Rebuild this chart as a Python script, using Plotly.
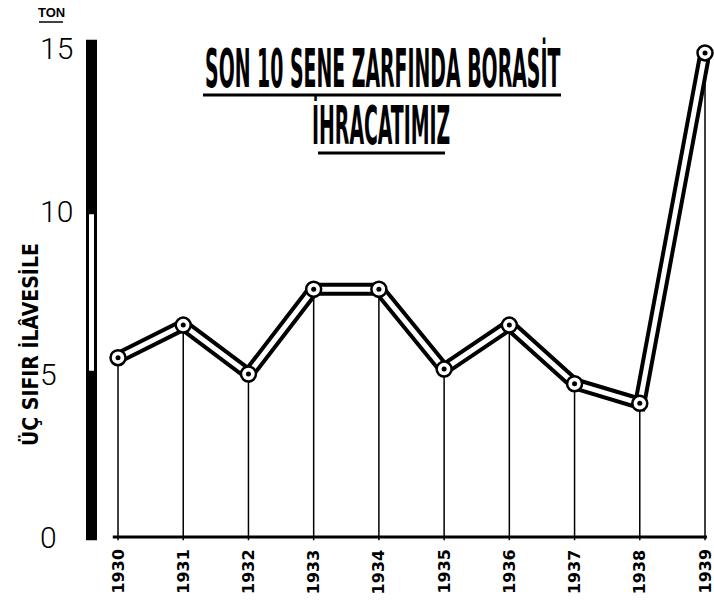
import plotly.graph_objects as go

years = [1930, 1931, 1932, 1933, 1934, 1935, 1936, 1937, 1938, 1939]
year_labels = ["1930", "1931", "1932", "1933", "1934", "1935", "1936", "1937", "1938", "1939"]
exports = [5.5, 6.5, 5.0, 7.6, 7.6, 5.15, 6.5, 4.7, 4.1, 14.85]
y_ticks = [0, 5, 10, 15]
y_tick_labels = ["0", "5", "10", "15"]

title_line1 = "SON 10 SENE ZARFINDA BORASİT"
title_line2 = "İHRACATIMIZ"
y_title = "ÜÇ SIFIR İLÂVESİLE"
unit = "TON"

W, H = 714, 610
ML, MR, MT, MB = 80, 4, 30, 67
PW, PH = W - ML - MR, H - MT - MB

def px(x):
    return (x - ML) / PW

def py(y):
    return (H - MB - y) / PH

fig = go.Figure()

# drop lines
dx, dy = [], []
for x, v in zip(years, exports):
    dx += [x, x, None]
    dy += [-0.1, v, None]
fig.add_trace(go.Scatter(x=dx, y=dy, mode="lines", line=dict(color="black", width=1.5),
                         hoverinfo="skip", showlegend=False, cliponaxis=False))
# thick band line
fig.add_trace(go.Scatter(x=years, y=exports, mode="lines", line=dict(color="black", width=13),
                         showlegend=False, hoverinfo="skip", cliponaxis=False))
fig.add_trace(go.Scatter(x=years, y=exports, mode="lines", line=dict(color="white", width=5),
                         showlegend=False, hoverinfo="skip", cliponaxis=False))
fig.add_trace(go.Scatter(x=years, y=exports, mode="markers",
                         marker=dict(size=15, color="white", line=dict(color="black", width=2.5)),
                         showlegend=False, cliponaxis=False))
fig.add_trace(go.Scatter(x=years, y=exports, mode="markers",
                         marker=dict(size=5, color="black"), showlegend=False, hoverinfo="skip",
                         cliponaxis=False))

shapes = []
# x axis line
shapes.append(dict(type="line", xref="x", yref="y", x0=years[0] - 0.08, x1=years[-1] + 0.03,
                   y0=y_ticks[0], y1=y_ticks[0], line=dict(color="black", width=3)))
# y axis thick bar
shapes.append(dict(type="rect", xref="paper", yref="y", x0=px(86), x1=px(97),
                   y0=y_ticks[0] - 0.1, y1=y_ticks[-1] + 0.25, fillcolor="black",
                   line=dict(width=0), layer="above"))
shapes.append(dict(type="rect", xref="paper", yref="y", x0=px(89), x1=px(94),
                   y0=y_ticks[1] + 0.1, y1=y_ticks[2] - 0.1, fillcolor="white",
                   line=dict(width=0), layer="above"))
# title underlines
shapes.append(dict(type="line", xref="paper", yref="paper", x0=px(203), x1=px(561),
                   y0=py(95), y1=py(95), line=dict(color="black", width=3)))
shapes.append(dict(type="line", xref="paper", yref="paper", x0=px(318), x1=px(445),
                   y0=py(153), y1=py(153), line=dict(color="black", width=3)))
# TON underline
shapes.append(dict(type="line", xref="paper", yref="paper", x0=px(39), x1=px(63),
                   y0=py(22), y1=py(22), line=dict(color="black", width=1.5)))

annotations = []
for v, t in zip(y_ticks, y_tick_labels):
    annotations.append(dict(x=px(38), y=v, xref="paper", yref="y", text=t, showarrow=False,
                            xanchor="left", yanchor="middle",
                            font=dict(family="Roboto, Liberation Sans", size=30, weight=300, color="black")))
for x, t in zip(years, year_labels):
    annotations.append(dict(x=x, y=py(547), xref="x", yref="paper", text=t, showarrow=False,
                            textangle=-90, xanchor="center", yanchor="top",
                            font=dict(family="DejaVu Sans", size=16, weight="bold", color="black")))
annotations.append(dict(x=px(51), y=py(13), xref="paper", yref="paper", text="<b>" + unit + "</b>",
                        showarrow=False, xanchor="center", yanchor="middle",
                        font=dict(family="Liberation Sans", size=13, color="black")))
annotations.append(dict(x=px(30), y=py(345), xref="paper", yref="paper", text="<b>" + y_title + "</b>",
                        showarrow=False, textangle=-90, xanchor="center", yanchor="middle",
                        font=dict(family="Liberation Sans Narrow, DejaVu Sans Condensed, Liberation Sans",
                                  size=21, color="black")))
annotations.append(dict(x=px(382), y=py(68), xref="paper", yref="paper", text="<b>" + title_line1 + "</b>",
                        showarrow=False, xanchor="center", yanchor="middle",
                        font=dict(family="Liberation Sans Narrow, DejaVu Sans Condensed", size=21, color="black")))
annotations.append(dict(x=px(381), y=py(125), xref="paper", yref="paper", text="<b>" + title_line2 + "</b>",
                        showarrow=False, xanchor="center", yanchor="middle",
                        font=dict(family="Liberation Sans Narrow, DejaVu Sans Condensed", size=21, color="black")))

fig.update_layout(
    width=W, height=H,
    margin=dict(l=ML, r=MR, t=MT, b=MB),
    paper_bgcolor="white", plot_bgcolor="white",
    shapes=shapes, annotations=annotations,
    xaxis=dict(range=[years[0] - 38 / 65.2, years[-1] + 5 / 65.2], showgrid=False, zeroline=False,
               showline=False, ticks="", showticklabels=False),
    yaxis=dict(range=[-6 / 32.6, 507 / 32.6], showgrid=False, zeroline=False, showline=False,
               showticklabels=False, ticks=""),
)

post = """
(function(){
  document.body.style.margin = '0';
  document.body.style.padding = '0';
  var els = document.querySelectorAll('.annotation-text');
  els.forEach(function(el){
    var t = el.textContent;
    if (t.indexOf('SON 10') === 0 || t.indexOf('İHRACAT') === 0) {
      el.style.transformBox = 'fill-box';
      el.style.transformOrigin = 'center';
      el.style.transform = 'scaleY(2.5)';
    }
  });
})();
"""
fig.write_html("out.html", post_script=post, config={"displayModeBar": False})
